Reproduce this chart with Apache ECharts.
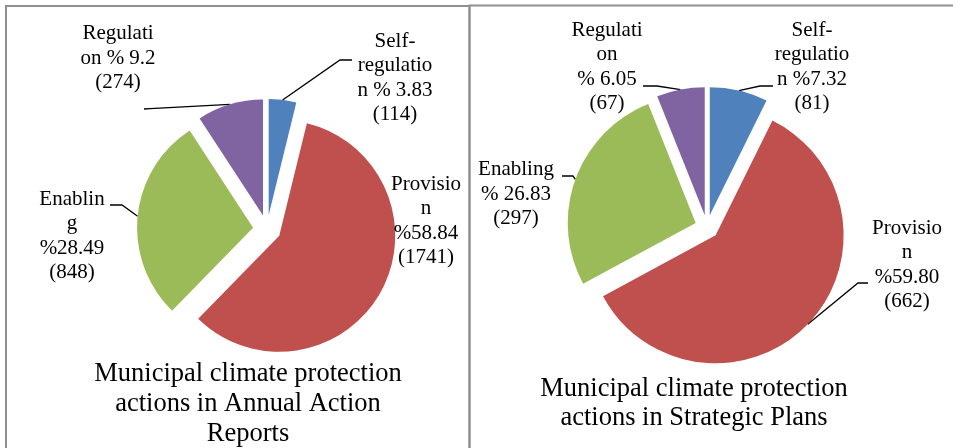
<!DOCTYPE html>
<html>
<head>
<meta charset="utf-8">
<script src="https://cdn.jsdelivr.net/npm/echarts@6/dist/echarts.min.js"></script>
<style>
html,body{margin:0;padding:0;background:#fff;}
#chart{width:953px;height:448px;}
</style>
</head>
<body>
<div id="chart"></div>
<script>
// ---- data ----
const categories = ['Self-regulation', 'Provision', 'Enabling', 'Regulation'];
const colors = ['#4F81BD', '#C0504D', '#9BBB59', '#8064A2'];

const leftCounts = [114, 1741, 848, 274];
const leftPct = ['3.83', '58.84', '28.49', '9.2'];
const leftLabelText = [
  'Self-\nregulatio\nn % {p}\n({c})',
  'Provisio\nn\n%{p}\n({c})',
  'Enablin\ng\n%{p}\n({c})',
  'Regulati\non % {p}\n({c})'
];

const rightCounts = [81, 662, 297, 67];
const rightPct = ['7.32', '59.80', '26.83', '6.05'];
const rightLabelText = [
  'Self-\nregulatio\nn %{p}\n({c})',
  'Provisio\nn\n%{p}\n({c})',
  'Enabling\n% {p}\n({c})',
  'Regulati\non\n% {p}\n({c})'
];

const leftTitle = 'Municipal climate protection\nactions in Annual Action\nReports';
const rightTitle = 'Municipal climate protection\nactions in Strategic Plans';

// ---- label placement (layout only) ----
const leftLabelPos = [
  {x: 395, y: 78, line: [[340, 60], [352, 60]]},
  {x: 426, y: 221, line: null},
  {x: 72, y: 236, line: [[122, 205], [110, 205]]},
  {x: 118, y: 58, line: [[150, 108.6], [144, 109]]}
];
const rightLabelPos = [
  {x: 812, y: 67, line: [[760, 86], [773, 86]]},
  {x: 907, y: 265, line: [[858, 283], [868, 283]]},
  {x: 516, y: 194, line: [[573, 176], [562, 176]]},
  {x: 607, y: 67, line: [[657, 86], [643, 86]]}
];

const FONT = '"Liberation Serif", "Times New Roman", serif';

function makeLayout(pos) {
  return function (params) {
    const cfg = pos[params.dataIndex];
    const out = {x: cfg.x, y: cfg.y, align: 'center', verticalAlign: 'middle'};
    if (cfg.line && params.labelLinePoints) {
      out.labelLinePoints = [params.labelLinePoints[0], cfg.line[0], cfg.line[1]];
    }
    return out;
  };
}

// One series per exploded slice: each series draws only its own slice,
// with the centre pushed out along the slice's mid angle.
function explodedPie(center, radius, offset, counts, pct, texts, pos) {
  const total = counts.reduce((a, b) => a + b, 0);
  const list = [];
  let cum = 0;
  counts.forEach((v, k) => {
    const mid = (cum + v / 2) / total * 2 * Math.PI; // clockwise from top
    cum += v;
    const c = [center[0] + offset * Math.sin(mid), center[1] - offset * Math.cos(mid)];
    list.push({
      type: 'pie',
      center: c,
      radius: radius,
      startAngle: 90,
      clockwise: true,
      avoidLabelOverlap: false,
      silent: true,
      animation: false,
      emphasis: {disabled: true},
      label: {
        show: false,
        fontFamily: FONT,
        fontSize: 21,
        lineHeight: 24.5,
        color: '#000',
        align: 'center'
      },
      labelLine: {
        show: false,
        length: 15,
        length2: 10,
        lineStyle: {color: '#000', width: 1.3}
      },
      labelLayout: makeLayout(pos),
      itemStyle: {borderWidth: 0},
      data: counts.map((val, i) => ({
        name: categories[i],
        value: val,
        itemStyle: {color: i === k ? colors[i] : 'rgba(0,0,0,0)'},
        label: i === k ? {show: true, formatter: texts[i].replace('{p}', pct[i]).replace('{c}', val)} : {show: false},
        labelLine: {show: i === k && !!pos[i].line}
      }))
    });
  });
  return list;
}

const chart = echarts.init(document.getElementById('chart'), null, {renderer: 'canvas'});
chart.setOption({
  animation: false,
  backgroundColor: '#fff',
  graphic: [
    {type: 'rect', shape: {x: 6, y: 6, width: 463.5, height: 460}, style: {fill: 'none', stroke: '#8f8f8f', lineWidth: 2}, z: -1},
    {type: 'rect', shape: {x: 469.5, y: 5.5, width: 490, height: 460}, style: {fill: 'none', stroke: '#8f8f8f', lineWidth: 2}, z: -1},
    {type: 'text', x: 248, y: 359, style: {text: leftTitle, font: '26.5px ' + FONT, fill: '#000', textAlign: 'center', lineHeight: 30}},
    {type: 'text', x: 694, y: 375, style: {text: rightTitle, font: '26.5px ' + FONT, fill: '#000', textAlign: 'center', lineHeight: 28.5}}
  ],
  series: [].concat(
    explodedPie([267, 229], 116, 14, leftCounts, leftPct, leftLabelText, leftLabelPos),
    explodedPie([707, 227], 128, 12, rightCounts, rightPct, rightLabelText, rightLabelPos)
  )
});
</script>
</body>
</html>
